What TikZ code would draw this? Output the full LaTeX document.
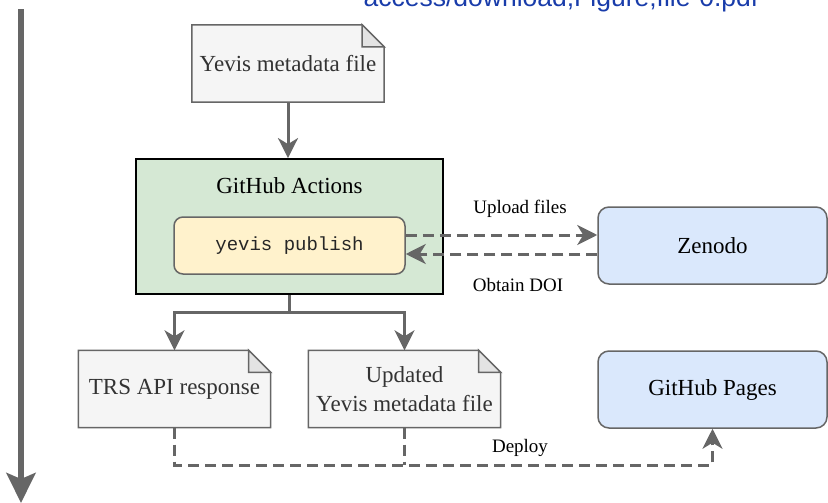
\documentclass[tikz,border=0pt]{standalone}
\usepackage{fontspec}
\setmainfont{Liberation Serif}
\setmonofont{Liberation Mono}
\newfontfamily\hdrfont{Liberation Sans}
\usetikzlibrary{arrows.meta,backgrounds}
\definecolor{strokegrey}{HTML}{666666}
\definecolor{notefill}{HTML}{F5F5F5}
\definecolor{foldfill}{HTML}{E3E3E3}
\definecolor{textgrey}{HTML}{333333}
\definecolor{greenfill}{HTML}{D5E8D4}
\definecolor{yellowfill}{HTML}{FFF2CC}
\definecolor{bluefill}{HTML}{DAE8FC}
\definecolor{hdrblue}{RGB}{25,60,170}
\newcommand{\bigfont}{\fontsize{23}{29}\selectfont}
\newcommand{\smallfont}{\fontsize{19}{23}\selectfont}
\newcommand{\mynote}[1]{%
  \filldraw[notest] (#1.north west) -- ([xshift=-22pt]#1.north east) -- ([yshift=-22pt]#1.north east) -- (#1.south east) -- (#1.south west) -- cycle;
  \filldraw[foldst] ([xshift=-22pt]#1.north east) -- ([xshift=-22pt,yshift=-22pt]#1.north east) -- ([yshift=-22pt]#1.north east) -- cycle;}
\tikzset{
  notebox/.style={minimum width=192pt, minimum height=77pt, inner sep=0pt, align=center, text=textgrey, font=\bigfont},
  notest/.style={fill=notefill, draw=strokegrey, line width=1.5pt, line join=miter},
  foldst/.style={fill=foldfill, draw=strokegrey, line width=1.5pt, line join=miter},
  bluebox/.style={minimum width=229pt, minimum height=77pt, inner sep=0pt, rounded corners=11pt, fill=bluefill, draw=strokegrey, line width=1.5pt, font=\bigfont},
  conn/.style={draw=strokegrey, line width=3pt},
  arr/.style={-{Stealth[length=20pt,width=20pt,inset=6pt]}},
  dconn/.style={draw=strokegrey, line width=3pt, dash pattern=on 11pt off 6pt},
  lbl/.style={font=\smallfont, inner sep=0pt}
}
\begin{document}
\begin{tikzpicture}[x=1pt,y=-1pt]
\useasboundingbox (0,0) rectangle (828,503);
% header text (cut off at the top, as in the reference)
\node[anchor=base, text=hdrblue, font=\hdrfont\fontsize{26.5}{30}\selectfont, inner sep=0pt] (hdr) at (561,7) {access/download;Figure;file-0.pdf};
% time arrow
\coordinate (tl) at (21,9.5);
\coordinate (tb) at (21,503);
\draw[draw=strokegrey, line width=5.5pt, -{Stealth[length=30pt,width=29pt,inset=6pt]}] (tl) -- (tb);
% nodes
\node[notebox] (yevis) at (288,63.5) {Yevis metadata file};
\node[minimum width=307pt, minimum height=135pt, inner sep=0pt, fill=greenfill, draw=black, line width=1.8pt] (gha) at (289.5,226.5) {};
\node[font=\bigfont, inner sep=0pt] (gatitle) at (289.5,186) {GitHub Actions};
\node[minimum width=231pt, minimum height=57pt, inner sep=0pt, rounded corners=9pt, fill=yellowfill, draw=strokegrey, line width=1.5pt, font=\ttfamily\smallfont, text=black!85] (pub) at (289.5,245.5) {yevis publish};
\node[bluebox] (zen) at (712.5,245.5) {Zenodo};
\node[notebox] (trs) at (174.5,389) {TRS API response};
\node[notebox] (upd) at (404.5,389) {Updated\\Yevis metadata file};
\node[bluebox] (pages) at (712.5,389.5) {GitHub Pages};
\begin{scope}[on background layer]
  \mynote{yevis}
  \mynote{trs}
  \mynote{upd}
\end{scope}
% labels
\node[lbl] (lup) at (520,209) {Upload files};
\node[lbl] (ldoi) at (518,285) {Obtain DOI};
\node[lbl] (ldep) at (520,448) {Deploy};
% connectors
\draw[conn,arr] (yevis.south) -- (yevis.south |- gha.north);
\draw[conn] (gha.south) -- ++(0,18) coordinate (br);
\draw[conn,arr] (br) -| (trs.north);
\draw[conn,arr] (br) -| (upd.north);
\draw[dconn,arr] ([yshift=10.5pt]pub.east) -- ([yshift=10.5pt]pub.east -| zen.west);
\draw[dconn,arr] ([yshift=-8.5pt]zen.west) -- ([yshift=-8.5pt]zen.west -| pub.east);
\coordinate (dy) at (0,465);
\draw[dconn,arr] (trs.south) -- (trs.south |- dy) -| (pages.south);
\draw[dconn] (upd.south) -- (upd.south |- dy);
\end{tikzpicture}
\end{document}
